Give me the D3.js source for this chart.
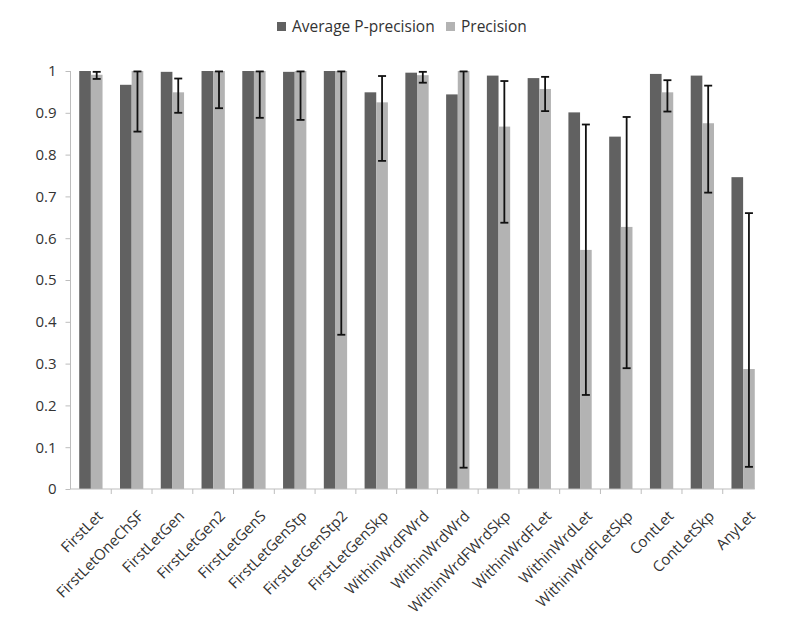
<!DOCTYPE html>
<html>
<head>
<meta charset="utf-8">
<script src="https://cdn.jsdelivr.net/npm/d3@7"></script>
<style>
  html, body { margin: 0; padding: 0; background: #fff; }
  svg text { font-family: "Open Sans", "Liberation Sans", sans-serif; fill: #333; }
</style>
</head>
<body>
<svg id="chart" width="785" height="626"></svg>
<script>
// ---- data ----
const categories = ["FirstLet","FirstLetOneChSF","FirstLetGen","FirstLetGen2","FirstLetGenS",
  "FirstLetGenStp","FirstLetGenStp2","FirstLetGenSkp","WithinWrdFWrd","WithinWrdWrd",
  "WithinWrdFWrdSkp","WithinWrdFLet","WithinWrdLet","WithinWrdFLetSkp","ContLet","ContLetSkp","AnyLet"];
const seriesNames = ["Average P-precision", "Precision"];
const avgPPrecision = [1.000,0.967,0.998,1.000,1.000,0.998,1.000,0.949,0.996,0.944,0.989,0.983,0.901,0.843,0.993,0.989,0.746];
const precision     = [0.991,1.000,0.949,1.000,1.000,1.000,1.000,0.925,0.990,1.000,0.867,0.957,0.572,0.627,0.949,0.875,0.287];
const precisionErrLow  = [0.981,0.855,0.900,0.911,0.888,0.883,0.369,0.785,0.972,0.051,0.637,0.904,0.225,0.289,0.903,0.709,0.053];
const precisionErrHigh = [0.998,0.999,0.982,0.999,0.999,0.999,0.999,0.988,0.998,0.999,0.976,0.986,0.872,0.890,0.978,0.965,0.660];
const yTicks = [0,0.1,0.2,0.3,0.4,0.5,0.6,0.7,0.8,0.9,1];
const colors = ["#616161", "#b3b3b3"];

// ---- layout ----
const svg = d3.select("#chart");
const margin = {left: 70.5, right: 21.5, top: 71, bottom: 137};
const W = 785, H = 626;

const x = d3.scaleBand().domain(categories)
  .range([margin.left, W - margin.right]).paddingInner(0).paddingOuter(0);
const xs = d3.scaleBand().domain(seriesNames)
  .range([0, x.bandwidth()]).paddingInner(0).paddingOuter(0.75);
const y = d3.scaleLinear().domain([0, 1]).range([H - margin.bottom, margin.top]);

const rows = categories.map((c, i) => ({
  cat: c, vals: [avgPPrecision[i], precision[i]], lo: precisionErrLow[i], hi: precisionErrHigh[i]
}));

// bars
const g = svg.append("g");
const grp = g.selectAll("g.grp").data(rows).join("g")
  .attr("transform", d => `translate(${x(d.cat)},0)`);
grp.selectAll("rect").data(d => d.vals.map((v, k) => ({v, k}))).join("rect")
  .attr("x", d => xs(seriesNames[d.k]))
  .attr("width", xs.bandwidth())
  .attr("y", d => y(d.v))
  .attr("height", d => y(0) - y(d.v))
  .attr("fill", d => colors[d.k]);

// error bars on Precision
const capW = 4;
const eb = grp.append("g").attr("stroke", "#111").attr("stroke-width", 1.8);
const cx = xs(seriesNames[1]) + xs.bandwidth() / 2;
eb.append("line").attr("x1", cx).attr("x2", cx)
  .attr("y1", d => y(d.hi)).attr("y2", d => y(d.lo));
eb.append("line").attr("x1", cx - capW).attr("x2", cx + capW)
  .attr("y1", d => y(d.hi)).attr("y2", d => y(d.hi));
eb.append("line").attr("x1", cx - capW).attr("x2", cx + capW)
  .attr("y1", d => y(d.lo)).attr("y2", d => y(d.lo));

// y axis
const yAxis = svg.append("g").attr("transform", `translate(${margin.left},0)`)
  .call(d3.axisLeft(y).tickValues(yTicks).tickSize(5).tickPadding(9)
    .tickFormat(d => d === 0 ? "0" : d === 1 ? "1" : d3.format(".1f")(d)));
yAxis.select(".domain").attr("stroke", "#bdbdbd").attr("d", `M0,${y(1)}V${y(0)}`);
yAxis.selectAll(".tick line").attr("stroke", "#bdbdbd");
yAxis.selectAll(".tick text").attr("font-size", 15).attr("fill", "#333");

// x axis line and boundary ticks
const xAxisG = svg.append("g");
const lastEnd = x(categories[categories.length - 1]) + xs(seriesNames[1]) + xs.bandwidth();
xAxisG.append("line").attr("x1", margin.left).attr("x2", lastEnd)
  .attr("y1", y(0)).attr("y2", y(0)).attr("stroke", "#bdbdbd");
xAxisG.selectAll("line.tk").data(categories.slice(1)).join("line").attr("class", "tk")
  .attr("x1", d => x(d)).attr("x2", d => x(d))
  .attr("y1", y(0)).attr("y2", y(0) + 5).attr("stroke", "#bdbdbd");

// category labels rotated -45
xAxisG.selectAll("text.cl").data(categories).join("text").attr("class", "cl")
  .attr("text-anchor", "end")
  .attr("font-size", 15)
  .attr("transform", d => `translate(${x(d) + x.bandwidth() / 2 + 5},${y(0) + 20}) rotate(-45)`)
  .attr("dy", "0.75em")
  .text(d => d);

// legend
const legend = svg.append("g");
const legendItems = [
  {name: seriesNames[0], color: colors[0], x: 277},
  {name: seriesNames[1], color: colors[1], x: 446}
];
const lg = legend.selectAll("g").data(legendItems).join("g")
  .attr("transform", d => `translate(${d.x},22)`);
lg.append("rect").attr("width", 9).attr("height", 9).attr("fill", d => d.color);
lg.append("text").attr("x", 15).attr("y", 4.5).attr("dy", "0.35em")
  .attr("font-size", 15.5).text(d => d.name);
</script>
</body>
</html>
